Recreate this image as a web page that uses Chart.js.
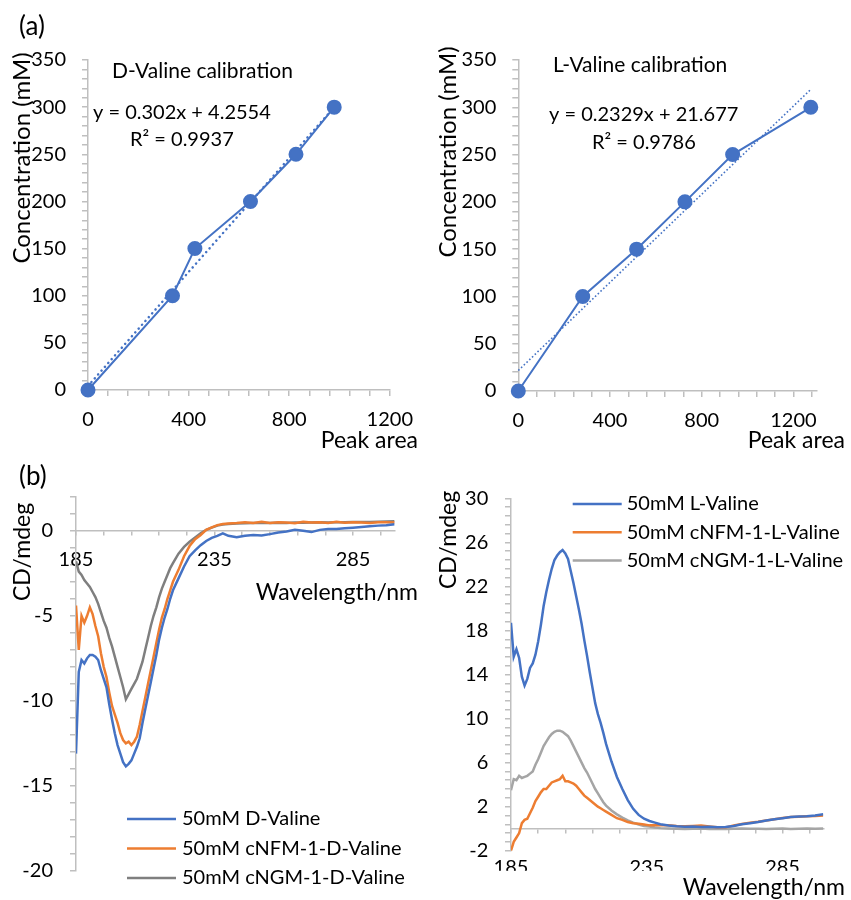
<!DOCTYPE html>
<html lang="en">
<head>
<meta charset="UTF-8">
<title>Valine calibration and CD spectra</title>
<style>
  body { margin: 0; background: #fff; }
  .wrap { position: relative; width: 851px; height: 900px; background: #fff; }
  .wrap canvas { position: absolute; }
</style>
</head>
<body>
<div class="wrap">
  <canvas id="calD" width="425" height="450" style="left:0;top:0"></canvas>
  <canvas id="calL" width="426" height="450" style="left:425px;top:0"></canvas>
  <canvas id="cdD" width="425" height="450" style="left:0;top:450px"></canvas>
  <canvas id="cdL" width="426" height="450" style="left:425px;top:450px"></canvas>
</div>
<script src="https://cdn.jsdelivr.net/npm/chart.js"></script>
<script>
// (a) calibration points
var dPeakArea = [0, 336, 425, 646, 827, 979];
var dConc = [0, 100, 150, 200, 250, 300];
var dTrendX = [0, 979];
var dTrendY = [4.3, 300];

var lPeakArea = [0, 281, 516, 727, 935, 1276];
var lConc = [0, 100, 150, 200, 250, 300];
var lTrendX = [0, 1276];
var lTrendY = [21.7, 318.9];

// (b) CD spectra, mdeg at each wavelength (nm)
var wavelength = [185, 186, 187, 188, 189, 190, 191, 192, 193, 194, 195, 196, 197, 198, 199, 200,
  201, 202, 203, 204, 205, 206, 207, 208, 209, 210, 211, 212, 213, 214, 215, 216, 217, 218, 219, 220,
  222, 224, 226, 228, 230, 232, 234, 236, 238, 240,
  243, 246, 249, 252, 255, 258, 261, 264, 267, 270, 273, 276, 279, 282, 285, 288, 291, 294, 297, 300];

var dValine = [-13.1, -8.3, -7.6, -7.8, -7.5, -7.3, -7.3, -7.4, -7.6, -8.2, -8.7, -9.2, -10.2, -11.1, -11.9, -12.6,
  -13.1, -13.6, -13.85, -13.7, -13.5, -13.1, -12.7, -12.2, -11.3, -10.5, -9.7, -8.9, -8.1, -7.3, -6.4, -5.7, -5.1, -4.6, -4.0, -3.5,
  -2.8, -2.1, -1.5, -1.15, -0.85, -0.6, -0.42, -0.3, -0.15, -0.3,
  -0.38, -0.3, -0.25, -0.28, -0.2, -0.1, -0.05, 0.06, 0.0, -0.08, 0.05, 0.1, 0.1, 0.15, 0.18, 0.22, 0.27, 0.3, 0.32, 0.38];
var cnfmDValine = [-4.4, -7.0, -5.0, -5.4, -5.0, -4.5, -4.9, -5.6, -6.2, -7.2, -8.0, -8.6, -9.5, -10.3, -10.8, -11.3,
  -11.9, -12.3, -12.5, -12.4, -12.6, -12.4, -12.1, -11.4, -10.6, -9.8, -9.0, -8.2, -7.4, -6.6, -5.8, -5.1, -4.6, -4.0, -3.5, -3.0,
  -2.3, -1.5, -0.9, -0.5, -0.25, 0.05, 0.2, 0.33, 0.4, 0.42,
  0.45, 0.5, 0.45, 0.52, 0.46, 0.5, 0.48, 0.44, 0.52, 0.48, 0.5, 0.45, 0.52, 0.47, 0.5, 0.48, 0.45, 0.5, 0.5, 0.48];
var cngmDValine = [-1.8, -2.4, -2.6, -2.9, -3.1, -3.3, -3.6, -3.9, -4.3, -4.8, -5.3, -5.7, -6.3, -6.8, -7.4, -8.0,
  -8.6, -9.2, -9.9, -9.6, -9.3, -9.0, -8.7, -8.2, -7.7, -7.0, -6.3, -5.6, -5.0, -4.5, -3.9, -3.4, -3.0, -2.6, -2.2, -1.9,
  -1.35, -0.95, -0.65, -0.4, -0.15, 0.05, 0.18, 0.3, 0.36, 0.4,
  0.42, 0.44, 0.45, 0.46, 0.45, 0.47, 0.46, 0.48, 0.47, 0.48, 0.5, 0.49, 0.5, 0.5, 0.51, 0.52, 0.52, 0.53, 0.54, 0.55];

var lValine = [18.7, 15.6, 16.3, 15.5, 13.8, 13.0, 13.6, 14.6, 15.0, 15.8, 17.0, 18.5, 20.2, 21.5, 22.6, 23.6,
  24.4, 24.8, 25.1, 25.3, 25.0, 24.5, 23.4, 22.3, 21.1, 19.9, 18.6, 17.1, 15.7, 14.2, 12.8, 11.4, 10.4, 9.6, 8.7, 7.7,
  6.1, 4.7, 3.6, 2.6, 1.8, 1.25, 0.9, 0.7, 0.55, 0.4,
  0.28, 0.22, 0.18, 0.2, 0.15, 0.18, 0.12, 0.15, 0.25, 0.4, 0.5, 0.6, 0.75, 0.85, 0.95, 1.05, 1.1, 1.12, 1.2, 1.3];
var cnfmLValine = [-2.0, -1.2, -0.8, -0.4, 0.5, 0.8, 0.9, 1.4, 1.9, 2.5, 2.9, 3.3, 3.6, 3.6, 3.9, 4.2,
  4.3, 4.4, 4.5, 4.8, 4.3, 4.3, 4.2, 4.1, 3.9, 3.6, 3.3, 3.0, 2.8, 2.6, 2.4, 2.2, 2.0, 1.85, 1.7, 1.55,
  1.25, 0.95, 0.8, 0.6, 0.5, 0.45, 0.38, 0.3, 0.3, 0.3,
  0.3, 0.25, 0.22, 0.25, 0.28, 0.2, 0.12, 0.12, 0.28, 0.42, 0.55, 0.62, 0.75, 0.85, 0.98, 1.05, 1.08, 1.12, 1.15, 1.2];
var cngmLValine = [3.5, 4.5, 4.4, 4.8, 4.6, 4.7, 4.8, 5.0, 5.2, 5.8, 6.3, 6.9, 7.5, 7.9, 8.3, 8.6,
  8.8, 8.9, 8.9, 8.8, 8.6, 8.4, 8.0, 7.5, 7.0, 6.5, 6.0, 5.5, 5.1, 4.6, 4.1, 3.6, 3.2, 2.8, 2.4, 2.1,
  1.65, 1.3, 1.0, 0.75, 0.55, 0.38, 0.25, 0.2, 0.1, 0.05,
  0.02, 0.0, -0.02, 0.0, 0.01, -0.03, 0.0, -0.02, 0.0, 0.02, -0.01, 0.0, -0.03, 0.0, 0.01, -0.02, 0.0, 0.01, 0.0, 0.02];

// tick positions on the wavelength axes and which of them carry a label
var wlTicks = [185, 195, 205, 215, 225, 235, 245, 255, 265, 275, 285, 295];
var wlTickLabels = [185, 235, 285];

var BLUE = '#4472C4', ORANGE = '#ED7D31', GREY_D = '#7F7F7F', GREY_L = '#A5A5A5';
var AXIS = '#BFBFBF';
var FONT = 'Lato, "Liberation Sans", sans-serif';

Chart.defaults.font.family = FONT;
Chart.defaults.color = '#000';

function pts(xs, ys) {
  return xs.map(function (x, i) { return { x: x, y: ys[i] }; });
}
function fixWidth(w) { return function (s) { s.width = w; }; }
function fixHeight(h) { return function (s) { s.height = h; }; }
function useTicks(list) {
  return function (s) { s.ticks = list.map(function (v) { return { value: v }; }); };
}

// free text: titles, equations, panel letters
var notesPlugin = {
  id: 'notes',
  afterDraw: function (chart, args, opts) {
    var ctx = chart.ctx;
    (opts.items || []).forEach(function (n) {
      ctx.save();
      ctx.font = (n.size || 20) + 'px ' + FONT;
      ctx.fillStyle = '#000';
      ctx.textAlign = n.align || 'left';
      ctx.textBaseline = 'middle';
      ctx.translate(n.x, n.y);
      if (n.rotate) ctx.rotate(n.rotate);
      ctx.fillText(n.text, 0, 0);
      ctx.restore();
    });
  }
};

// Excel-style legend: line sample + label, placed inside the plot
var lineLegendPlugin = {
  id: 'lineLegend',
  afterDraw: function (chart, args, opts) {
    var ctx = chart.ctx;
    ctx.save();
    ctx.font = (opts.size || 20) + 'px ' + FONT;
    ctx.textBaseline = 'middle';
    ctx.textAlign = 'left';
    chart.data.datasets.forEach(function (ds, i) {
      var y = opts.y + i * opts.rowHeight;
      ctx.strokeStyle = ds.borderColor;
      ctx.lineWidth = 2.5;
      ctx.beginPath();
      ctx.moveTo(opts.x, y);
      ctx.lineTo(opts.x + opts.lineLength, y);
      ctx.stroke();
      ctx.fillStyle = '#000';
      ctx.fillText(ds.label, opts.x + opts.lineLength + opts.gap, y);
    });
    ctx.restore();
  }
};

function tickFont() { return { family: FONT, size: 20 }; }

function valueAxis(min, max, step, width, pad, labelFn) {
  return {
    type: 'linear', min: min, max: max,
    afterFit: fixWidth(width),
    border: { color: AXIS, width: 1.5 },
    grid: { drawOnChartArea: false, tickLength: 6, color: AXIS, lineWidth: 1.5 },
    ticks: { stepSize: step, padding: pad, autoSkip: false, font: tickFont(), callback: labelFn }
  };
}

function calibration(id, xs, ys, tx, ty, xMax, box, trendStyle, notes) {
  new Chart(document.getElementById(id), {
    type: 'scatter',
    data: {
      datasets: [
        { label: 'Calibration', data: pts(xs, ys), showLine: true, borderColor: BLUE, backgroundColor: BLUE,
          borderWidth: 2, pointRadius: 6.5, pointHoverRadius: 6.5, clip: false, order: 1 },
        { label: 'Linear fit', data: pts(tx, ty), showLine: true, borderColor: BLUE, pointRadius: 0, clip: false,
          borderWidth: trendStyle.width, borderDash: trendStyle.dash, borderCapStyle: trendStyle.cap, order: 2 }
      ]
    },
    options: {
      responsive: false, animation: false,
      layout: { padding: { left: 0, top: box.top, right: box.right, bottom: 0 } },
      plugins: { legend: { display: false }, tooltip: { enabled: false }, notes: { items: notes } },
      scales: {
        x: {
          type: 'linear', min: 0, max: xMax,
          afterFit: fixHeight(box.xh),
          border: { color: AXIS, width: 1.5 },
          grid: { drawOnChartArea: false, tickLength: 6, color: AXIS, lineWidth: 1.5 },
          ticks: { stepSize: 80, includeBounds: false, padding: 12, autoSkip: false, maxRotation: 0, minRotation: 0,
            font: tickFont(), callback: function (v) { return v % 400 === 0 ? v : ''; } }
        },
        y: valueAxis(0, 350, 10, box.yw, 16, function (v) { return v % 50 === 0 ? v : ''; })
      }
    },
    plugins: [notesPlugin]
  });
}

calibration('calD', dPeakArea, dConc, dTrendX, dTrendY, 1200,
  { top: 60, right: 35, xh: 60, yw: 88 },
  { width: 2.5, dash: [0.1, 5], cap: 'round' },
  [
    { text: '(a)', x: 19, y: 27, size: 26 },
    { text: 'D-Valine calibration', x: 112, y: 71, size: 21 },
    { text: 'y = 0.302x + 4.2554', x: 93, y: 113 },
    { text: 'R\u00b2 = 0.9937', x: 130, y: 140 },
    { text: 'Concentration (mM)', x: 22, y: 158, align: 'center', rotate: -Math.PI / 2, size: 24 },
    { text: 'Peak area', x: 418, y: 441, align: 'right', size: 23 }
  ]);

calibration('calL', lPeakArea, lConc, lTrendX, lTrendY, 1300,
  { top: 60, right: 34.7, xh: 59, yw: 93.3 },
  { width: 1.6, dash: [1.6, 2.2], cap: 'butt' },
  [
    { text: 'L-Valine calibration', x: 128, y: 65, size: 21 },
    { text: 'y = 0.2329x + 21.677', x: 124, y: 115 },
    { text: 'R\u00b2 = 0.9786', x: 167, y: 143 },
    { text: 'Concentration (mM)', x: 23, y: 152, align: 'center', rotate: -Math.PI / 2, size: 24 },
    { text: 'Peak area', x: 420, y: 441, align: 'right', size: 23 }
  ]);

function spectrum(label, values, color) {
  return { label: label, data: pts(wavelength, values), showLine: true, borderColor: color,
    backgroundColor: color, borderWidth: 2.5, pointRadius: 0, pointHoverRadius: 0 };
}

function wlLabel(v) { return wlTickLabels.indexOf(v) >= 0 ? v : ''; }

// (b) left: D-valine, wavelength axis crosses at 0
new Chart(document.getElementById('cdD'), {
  type: 'scatter',
  data: {
    datasets: [
      spectrum('50mM D-Valine', dValine, BLUE),
      spectrum('50mM cNFM-1-D-Valine', cnfmDValine, ORANGE),
      spectrum('50mM cNGM-1-D-Valine', cngmDValine, GREY_D)
    ]
  },
  options: {
    responsive: false, animation: false,
    layout: { padding: { left: 0, top: 46.7, right: 30.4, bottom: 20.7 } },
    plugins: {
      legend: { display: false }, tooltip: { enabled: false },
      lineLegend: { x: 127, y: 369, rowHeight: 29.5, lineLength: 49, gap: 6 },
      notes: { items: [
        { text: '(b)', x: 19, y: 27, size: 26 },
        { text: 'CD/mdeg', x: 23, y: 102, align: 'center', rotate: -Math.PI / 2, size: 23 },
        { text: 'Wavelength/nm', x: 418, y: 143, align: 'right', size: 23 }
      ] }
    },
    scales: {
      x: {
        type: 'linear', min: 185, max: 300, position: { y: 0 },
        afterBuildTicks: useTicks(wlTicks),
        border: { color: AXIS, width: 1.5 },
        grid: { drawOnChartArea: false, tickLength: 4, color: AXIS, lineWidth: 1.5 },
        ticks: { padding: 13, autoSkip: false, maxRotation: 0, minRotation: 0, font: tickFont(), callback: wlLabel }
      },
      y: valueAxis(-20, 2, 1, 76, 17, function (v) { return v % 5 === 0 ? v : ''; })
    }
  },
  plugins: [notesPlugin, lineLegendPlugin]
});

// (b) right: L-valine, labels under the plot, zero line with ticks
new Chart(document.getElementById('cdL'), {
  type: 'scatter',
  data: {
    datasets: [
      spectrum('50mM L-Valine', lValine, BLUE),
      spectrum('50mM cNFM-1-L-Valine', cnfmLValine, ORANGE),
      spectrum('50mM cNGM-1-L-Valine', cngmLValine, GREY_L)
    ]
  },
  options: {
    responsive: false, animation: false,
    layout: { padding: { left: 0, top: 48.3, right: 27.7, bottom: 29.3 } },
    plugins: {
      legend: { display: false }, tooltip: { enabled: false },
      lineLegend: { x: 147.7, y: 54, rowHeight: 28.3, lineLength: 49, gap: 5 },
      notes: { items: [
        { text: 'CD/mdeg', x: 24, y: 90, align: 'center', rotate: -Math.PI / 2, size: 23 },
        { text: 'Wavelength/nm', x: 420, y: 438, align: 'right', size: 23 }
      ] }
    },
    scales: {
      x: {
        type: 'linear', min: 185, max: 300, position: 'bottom',
        afterBuildTicks: useTicks(wlTicks),
        afterFit: fixHeight(20),
        border: { display: false },
        grid: { display: false },
        ticks: { padding: -3, autoSkip: false, maxRotation: 0, minRotation: 0, font: tickFont(), callback: wlLabel }
      },
      x2: {
        type: 'linear', min: 185, max: 300, position: { y: 0 },
        afterBuildTicks: useTicks(wlTicks),
        border: { color: AXIS, width: 1.5 },
        grid: { drawOnChartArea: false, tickLength: 4, color: AXIS, lineWidth: 1.5 },
        ticks: { display: false }
      },
      y: valueAxis(-2, 30, 0.8, 86, 16.7, function (v, i) { return i % 5 === 0 ? Math.round(v) : ''; })
    }
  },
  plugins: [notesPlugin, lineLegendPlugin]
});
</script>
</body>
</html>
